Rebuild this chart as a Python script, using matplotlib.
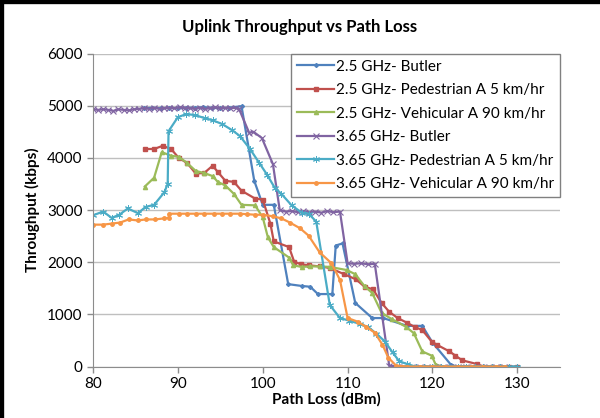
import matplotlib.pyplot as plt

plt.rcParams['font.family'] = ['Lato', 'DejaVu Sans']

# 2.5 GHz - Butler
x_b25 = [86, 87, 88, 89, 90, 91, 92, 93, 94, 95, 96, 97.5, 99, 100, 101.3, 103, 104.6, 105.6, 106.5,
         108.2, 108.6, 109.4, 110.9, 112.9, 114.2, 117, 118.8, 120, 122.2, 123, 124, 125, 126, 127]
y_b25 = [4950, 4960, 4950, 4960, 4950, 4960, 4960, 4970, 4960, 4950, 4960, 4990, 3560, 3100, 3100, 1580, 1545, 1530, 1390,
         1390, 2320, 2360, 1220, 930, 930, 780, 780, 460, 30, 0, 0, 0, 0, 0]

# 2.5 GHz - Pedestrian A 5 km/hr
x_p25 = [86.1, 87.2, 88.2, 89.2, 90.1, 91.1, 92.1, 93.1, 94.1, 94.7, 95.6, 96.6, 97.5, 99.1, 100, 100.9, 101.3,
         103.1, 103.7, 104.5, 105.5, 106.7, 107.9, 109.6, 111, 112, 113, 114, 114.9, 115.9, 117, 117.9, 118.8,
         119.9, 120.5, 122, 122.7, 123.5, 125.2, 126, 127, 128, 129, 130]
y_p25 = [4170, 4170, 4230, 4170, 4000, 3900, 3700, 3710, 3850, 3730, 3560, 3540, 3370, 3220, 3200, 2740, 2400,
         2290, 2010, 1960, 1940, 1920, 1890, 1770, 1670, 1530, 1480, 1220, 1050, 930, 840, 760, 700,
         480, 420, 290, 210, 120, 50, 0, 0, 0, 0, 0]

# 2.5 GHz - Vehicular A 90 km/hr
x_v25 = [86.1, 87.2, 88.1, 89.2, 90.1, 91.1, 92.1, 93.1, 94.1, 94.7, 95.6, 96.6, 97.5, 99.1, 100, 100.6, 101.3,
         103.1, 103.6, 104.6, 105.6, 106.7, 107.9, 109.9, 110.9, 112, 112.9, 114, 115.2, 116.9, 117.8, 118.8,
         119.9, 120.4, 121.5, 122.5, 123.5, 124.5, 125.5, 126.5, 127.5]
y_v25 = [3450, 3620, 4110, 4040, 4020, 3900, 3750, 3710, 3650, 3540, 3470, 3310, 3100, 3090, 2860, 2480, 2290,
         2090, 1940, 1910, 1920, 1920, 1910, 1850, 1770, 1540, 1410, 1030, 910, 760, 640, 290,
         210, 30, 0, 0, 0, 0, 0, 0, 0]

# 3.65 GHz - Butler
x_b365 = [80, 80.6, 81.2, 81.8, 82.4, 83, 83.6, 84.2, 84.8, 85.4, 86, 86.6, 87.2, 87.8, 88.4, 89, 89.6, 90.2,
          90.8, 91.4, 92, 92.6, 93.2, 93.8, 94.4, 95, 95.6, 96.2, 96.8, 97.2, 98.4, 98.9, 99.9, 101.2, 102,
          102.7, 103.4, 104.1, 104.8, 105.5, 106.2, 106.9, 107.6, 108.3, 109.1, 110, 110.8, 111.6, 112.4, 113.2,
          114.9, 115.8, 116.7, 117.6, 118.5, 119.4, 120.3, 121.2, 122.1, 123, 123.9, 124.8, 125.7, 126.6, 127.5, 128.4]
y_b365 = [4930, 4920, 4930, 4920, 4900, 4930, 4920, 4910, 4930, 4940, 4950, 4940, 4960, 4940, 4950, 4960, 4950, 4970,
          4960, 4950, 4940, 4960, 4940, 4950, 4970, 4950, 4960, 4950, 4960, 4940, 4480, 4500, 4380, 3880, 3000,
          2970, 2980, 2960, 2980, 2960, 2970, 2950, 2980, 2960, 2970, 1980, 1970, 1980, 1960, 1970,
          20, 0, 0, 0, 0, 0, 0, 0, 0, 0, 0, 0, 0, 0, 0, 0]

# 3.65 GHz - Pedestrian A 5 km/hr
x_p365 = [80, 81.2, 82.2, 83.1, 84.1, 85.3, 86.2, 87.2, 88.4, 88.8, 88.9, 90, 91, 92, 93.2, 94.1, 95.2, 96.4,
          97.3, 98.5, 99.6, 100.5, 101.4, 102.2, 103.4, 104.6, 105.4, 106.3, 107.9, 109.1, 110.2, 111.4, 112.4,
          113.4, 114.4, 115.3, 116.1, 117, 118, 119, 120, 121, 122, 123, 124, 125, 126, 127, 128, 129, 130]
y_p365 = [2900, 2970, 2850, 2910, 3030, 2940, 3060, 3100, 3340, 3500, 4510, 4780, 4840, 4820, 4760, 4720, 4650, 4530,
          4420, 4170, 3900, 3680, 3430, 3310, 3090, 2950, 2930, 2780, 1180, 930, 880, 820, 760,
          630, 480, 270, 100, 50, 0, 0, 0, 0, 0, 0, 0, 0, 0, 0, 0, 0, 0]

# 3.65 GHz - Vehicular A 90 km/hr
x_v365 = [80, 81.2, 82.2, 83.2, 84.2, 85.3, 86.2, 87.3, 88.4, 88.9, 89, 90.1, 91.1, 92.1, 93.1, 94.2, 95.2, 96.2,
          97.3, 98.2, 99.1, 100, 101.2, 102.2, 103.2, 104.4, 105.4, 106.7, 108.1, 109.1, 110, 111.2, 112.2, 113.2,
          114.1, 114.8, 115.7, 117, 118.5, 120, 121.5, 123, 124.5, 126, 127.5, 128.5]
y_v365 = [2720, 2720, 2740, 2760, 2820, 2800, 2820, 2820, 2840, 2850, 2930, 2930, 2930, 2930, 2930, 2930, 2930, 2930,
          2930, 2920, 2910, 2910, 2880, 2840, 2760, 2650, 2510, 2190, 1980, 1660, 930, 860, 760, 650,
          420, 170, 20, 0, 0, 0, 0, 0, 0, 0, 0, 0]

labels = ['2.5 GHz- Butler', '2.5 GHz- Pedestrian A 5 km/hr', '2.5 GHz- Vehicular A 90 km/hr',
          '3.65 GHz- Butler', '3.65 GHz- Pedestrian A 5 km/hr', '3.65 GHz- Vehicular A 90 km/hr']

fig = plt.figure(figsize=(6, 4.18), dpi=100)

# outer chart border: only the left and top edges show in the original
bg = fig.add_axes([0, 0, 1, 1], zorder=-1)
bg.set_xticks([])
bg.set_yticks([])
for s in ['right', 'bottom']:
    bg.spines[s].set_visible(False)
for s in ['left', 'top']:
    bg.spines[s].set_linewidth(6)
    bg.spines[s].set_color('black')

ax = fig.add_axes([0.155, 0.123, 0.778, 0.749])

ax.plot(x_b25, y_b25, color='#4F81BD', marker='D', ms=2, lw=1.6, label=labels[0])
ax.plot(x_p25, y_p25, color='#C0504D', marker='s', ms=3, lw=1.6, label=labels[1])
ax.plot(x_v25, y_v25, color='#9BBB59', marker='^', ms=3, lw=1.6, label=labels[2])
ax.plot(x_b365, y_b365, color='#8064A2', marker='x', ms=4, mew=0.8, lw=1.6, label=labels[3])
ax.plot(x_p365, y_p365, color='#4BACC6', marker=(6, 2, 0), ms=5, mew=0.7, lw=1.6, label=labels[4])
ax.plot(x_v365, y_v365, color='#F79646', marker='o', ms=2.5, lw=1.6, label=labels[5])

ax.set_xlim(80, 135)
ax.set_ylim(0, 6000)
ax.set_xticks([80, 90, 100, 110, 120, 130])
ax.set_yticks(range(0, 7000, 1000))
ax.grid(axis='y', color='#BFBFBF', lw=1)
ax.set_axisbelow(True)
for s in ['top', 'right']:
    ax.spines[s].set_visible(False)
for s in ['left', 'bottom']:
    ax.spines[s].set_color('#8C8C8C')
ax.tick_params(axis='both', colors='#8C8C8C', labelcolor='black', labelsize=11, length=4, width=1)

ax.set_xlabel('Path Loss (dBm)', fontsize=11, fontweight='bold', labelpad=1)
ax.set_ylabel('Throughput (kbps)', fontsize=11, fontweight='bold', labelpad=5)
fig.text(0.5, 0.935, 'Uplink Throughput vs Path Loss', ha='center', va='center',
         fontsize=12, fontweight='bold')

leg = ax.legend(loc='upper right', bbox_to_anchor=(1.0, 1.0), fontsize=11, frameon=True,
                fancybox=False, edgecolor='#808080', framealpha=1, borderaxespad=0,
                handlelength=2.4, handletextpad=0.1, labelspacing=0.62, borderpad=0.4)
leg.get_frame().set_linewidth(1)

fig.savefig('out.png', dpi=100)
